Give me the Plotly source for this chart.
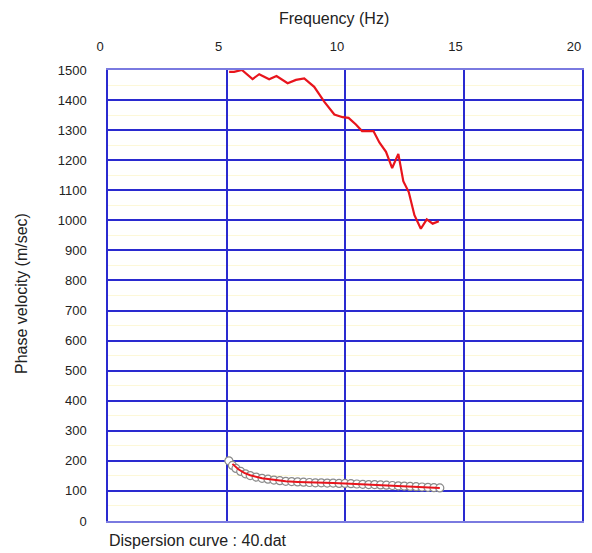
import plotly.graph_objects as go

# Observed dispersion curve (red, upper)
freq_obs = [5.11, 5.32, 5.65, 6.10, 6.38, 6.80, 7.11, 7.58, 7.93, 8.28, 8.70, 9.13,
            9.55, 9.90, 10.15, 10.46, 10.72, 11.20, 11.45, 11.73, 11.99, 12.25, 12.46,
            12.69, 12.93, 13.20, 13.45, 13.70, 13.96]
vel_obs = [1494, 1494, 1500, 1470, 1486, 1469, 1480, 1456, 1467, 1472, 1444, 1394,
           1352, 1343, 1341, 1319, 1297, 1297, 1259, 1228, 1174, 1221, 1130,
           1094, 1017, 972, 1003, 989, 997]

# Picked dispersion points (circles)
freq_pick = [5.10, 5.25, 5.40, 5.60, 5.80, 6.00, 6.25, 6.50, 6.75, 7.00, 7.25, 7.50,
             7.75, 8.00, 8.25, 8.50, 8.75, 9.00, 9.25, 9.50, 9.75, 10.00, 10.25, 10.50,
             10.75, 11.00, 11.25, 11.50, 11.75, 12.00, 12.25, 12.50, 12.75, 13.00,
             13.25, 13.50, 13.75, 14.00]
vel_pick = [200, 185, 175, 165, 157, 151, 146, 142, 139, 136, 134, 132,
            131, 130, 129, 128, 127, 127, 126, 126, 125, 125, 124, 123,
            122, 121, 121, 120, 119, 118, 117, 116, 115, 114,
            113, 112, 111, 110]

# Fitted curve (red, lower)
freq_fit = [5.25, 5.50, 5.75, 6.00, 6.50, 7.00, 7.50, 8.00, 8.50, 9.00, 9.50, 10.00,
            10.50, 11.00, 11.50, 12.00, 12.50, 13.00, 13.50, 14.00]
vel_fit = [190, 172, 160, 152, 142, 136, 132, 130, 128, 127, 126, 125,
           123, 121, 120, 118, 116, 114, 112, 110]

x_ticks = [0, 5, 10, 15, 20]
y_ticks = list(range(0, 1501, 100))

W, H = 592, 553
ML, MR, MT, MB = 108, 10, 70, 32

fig = go.Figure()
fig.add_trace(go.Scatter(x=freq_pick, y=vel_pick, mode="markers",
                         marker=dict(symbol="circle", size=8, color="white",
                                     line=dict(color="#8a8a8a", width=1.2)),
                         showlegend=False, cliponaxis=False))
fig.add_trace(go.Scatter(x=freq_fit, y=vel_fit, mode="lines",
                         line=dict(color="#e8141c", width=2), showlegend=False))
fig.add_trace(go.Scatter(x=freq_obs, y=vel_obs, mode="lines",
                         line=dict(color="#e8141c", width=2.2), showlegend=False,
                         cliponaxis=False))

pw, ph = W - ML - MR, H - MT - MB


def px2paper(px, py):
    return (px - ML) / pw, (H - MB - py) / ph


ann_specs = [
    ("Frequency (Hz)", 334, 18, 0, 16),
    ("Phase velocity (m/sec)", 21, 294, -90, 16),
    ("Dispersion curve : 40.dat", 198, 540, 0, 16),
]
annotations = []
for text, px, py, ang, fs in ann_specs:
    ax, ay = px2paper(px, py)
    annotations.append(dict(text=text, x=ax, y=ay, xref="paper", yref="paper",
                            xanchor="center", yanchor="middle", textangle=ang,
                            showarrow=False, font=dict(size=fs)))

grid = "#2a2ad0"
fig.update_layout(
    width=W, height=H,
    margin=dict(l=ML, r=MR, t=MT, b=MB, autoexpand=False),
    paper_bgcolor="white", plot_bgcolor="white",
    font=dict(family="Liberation Sans, Arial, sans-serif", size=13, color="#222"),
    xaxis=dict(side="top", range=[0, 20], tickvals=x_ticks,
               ticktext=[str(v) for v in x_ticks],
               showgrid=True, gridcolor=grid, gridwidth=1.5,
               showline=True, linecolor="#7a7ae0", linewidth=1.5, mirror=True,
               zeroline=False, ticks="", ticklabelstandoff=12, ticklabelshift=-8,
               automargin=False, fixedrange=True),
    yaxis=dict(range=[0, 1500], tickvals=y_ticks,
               ticktext=[str(v) for v in y_ticks],
               showgrid=True, gridcolor=grid, gridwidth=1.5,
               minor=dict(dtick=50, tick0=0, showgrid=True, gridcolor="#fdf8d8", gridwidth=1),
               showline=True, linecolor=grid, linewidth=1.5, mirror=True,
               zeroline=False, ticks="", ticklabelstandoff=17,
               automargin=False, fixedrange=True),
    annotations=annotations,
)

fig.write_html("out.html", config={"displayModeBar": False},
               post_script="document.body.style.margin='0px';")
